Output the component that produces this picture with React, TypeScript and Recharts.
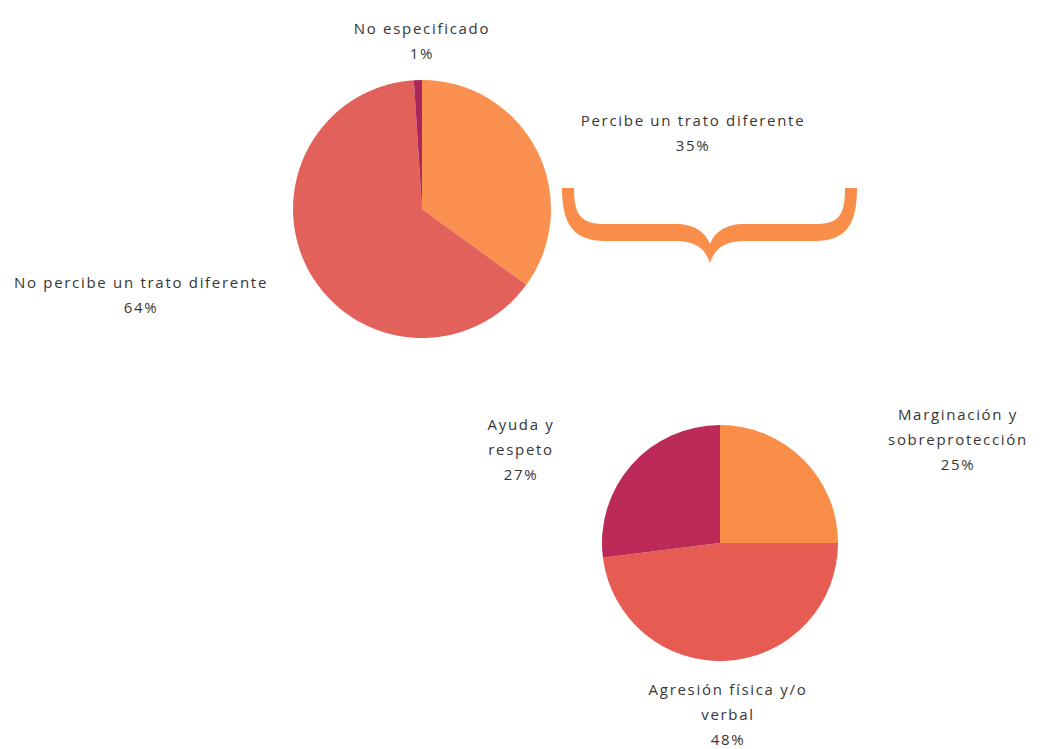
import React from 'react';
import { PieChart, Pie, Cell, Customized } from 'recharts';

const topCategories = ['Percibe un trato diferente', 'No percibe un trato diferente', 'No especificado'];
const topValues = [35, 64, 1];
const bottomCategories = ['Marginación y\nsobreprotección', 'Agresión física y/o\nverbal', 'Ayuda y\nrespeto'];
const bottomValues = [25, 48, 27];

const topColors = ['#FA9150', '#E2625B', '#A8265A'];
const bottomColors = ['#FA8E48', '#E65B52', '#BC2A58'];

const topData = topCategories.map((name, i) => ({ name, value: topValues[i] }));
const bottomData = bottomCategories.map((name, i) => ({ name, value: bottomValues[i] }));

// label offsets from the pie centre (layout only)
const topLabelOffsets = [
  [271, -88],
  [-281, 74],
  [0, -180],
];
const bottomLabelOffsets = [
  [238, -128],
  [8, 147],
  [-199, -118],
];

const FONT = '"Open Sans", sans-serif';

const makeLabel = (offsets: number[][], lineGap: number) => (props: any) => {
  const { cx, cy, index, name, value } = props;
  const [dx, dy] = offsets[index];
  const lines = [...String(name).split('\n'), `${value}%`];
  return (
    <text
      key={`lbl-${index}`}
      x={cx + dx}
      y={cy + dy}
      textAnchor="middle"
      fill="#363636"
      fontFamily={FONT}
      fontSize={15}
      letterSpacing={1.7}
    >
      {lines.map((l, i) => (
        <tspan key={i} x={cx + dx} y={cy + dy + i * lineGap + 5}>
          {l}
        </tspan>
      ))}
    </text>
  );
};

const Brace = () => (
  <path
    d="M 562 188 L 574 188 C 574 214, 580 224, 605 224 L 675 224 C 695 224, 705 232, 710 244 C 715 232, 725 224, 745 224 L 815 224 C 840 224, 845 214, 845 188 L 857 188 C 857 226, 845 241, 815 241 L 745 241 C 725 241, 715 248, 710 263 C 705 248, 695 241, 675 241 L 605 241 C 575 241, 562 226, 562 188 Z"
    fill="#F98E4B"
  />
);

export default function App() {
  return (
    <div style={{ position: 'absolute', left: 0, top: 0, background: '#fff' }}>
      <PieChart width={1049} height={749} margin={{ top: 0, right: 0, bottom: 0, left: 0 }}>
        <Pie
          data={topData}
          dataKey="value"
          nameKey="name"
          cx={422}
          cy={209}
          outerRadius={129}
          startAngle={90}
          endAngle={-270}
          stroke="none"
          labelLine={false}
          label={makeLabel(topLabelOffsets, 25)}
          isAnimationActive={false}
        >
          {topData.map((_, i) => (
            <Cell key={i} fill={topColors[i]} />
          ))}
        </Pie>
        <Pie
          data={bottomData}
          dataKey="value"
          nameKey="name"
          cx={720}
          cy={543}
          outerRadius={118}
          startAngle={90}
          endAngle={-270}
          stroke="none"
          labelLine={false}
          label={makeLabel(bottomLabelOffsets, 25)}
          isAnimationActive={false}
        >
          {bottomData.map((_, i) => (
            <Cell key={i} fill={bottomColors[i]} />
          ))}
        </Pie>
        <Customized component={Brace} />
      </PieChart>
    </div>
  );
}
